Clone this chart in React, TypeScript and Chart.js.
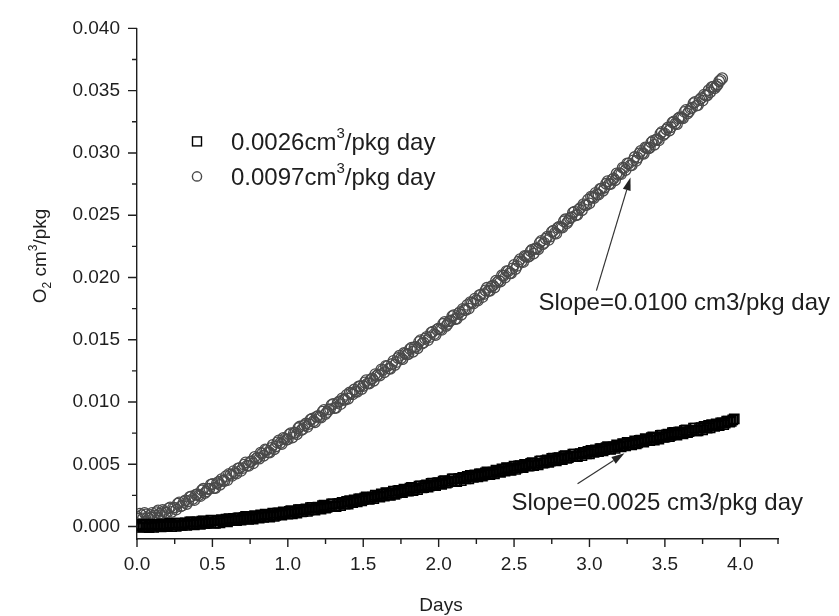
import { useEffect, useRef } from 'react';
import { Chart, registerables } from 'chart.js';

Chart.register(...registerables);

// ---- data ----
// readings taken at even hundredths of a day
const daysEven = [
  0, 0.02, 0.04, 0.06, 0.08, 0.1, 0.12, 0.14, 0.16, 0.18,
  0.2, 0.22, 0.24, 0.26, 0.28, 0.3, 0.32, 0.34, 0.36, 0.38,
  0.4, 0.42, 0.44, 0.46, 0.48, 0.5, 0.52, 0.54, 0.56, 0.58,
  0.6, 0.62, 0.64, 0.66, 0.68, 0.7, 0.72, 0.74, 0.76, 0.78,
  0.8, 0.82, 0.84, 0.86, 0.88, 0.9, 0.92, 0.94, 0.96, 0.98,
  1.0, 1.02, 1.04, 1.06, 1.08, 1.1, 1.12, 1.14, 1.16, 1.18,
  1.2, 1.22, 1.24, 1.26, 1.28, 1.3, 1.32, 1.34, 1.36, 1.38,
  1.4, 1.42, 1.44, 1.46, 1.48, 1.5, 1.52, 1.54, 1.56, 1.58,
  1.6, 1.62, 1.64, 1.66, 1.68, 1.7, 1.72, 1.74, 1.76, 1.78,
  1.8, 1.82, 1.84, 1.86, 1.88, 1.9, 1.92, 1.94, 1.96, 1.98,
  2.0, 2.02, 2.04, 2.06, 2.08, 2.1, 2.12, 2.14, 2.16, 2.18,
  2.2, 2.22, 2.24, 2.26, 2.28, 2.3, 2.32, 2.34, 2.36, 2.38,
  2.4, 2.42, 2.44, 2.46, 2.48, 2.5, 2.52, 2.54, 2.56, 2.58,
  2.6, 2.62, 2.64, 2.66, 2.68, 2.7, 2.72, 2.74, 2.76, 2.78,
  2.8, 2.82, 2.84, 2.86, 2.88, 2.9, 2.92, 2.94, 2.96, 2.98,
  3.0, 3.02, 3.04, 3.06, 3.08, 3.1, 3.12, 3.14, 3.16, 3.18,
  3.2, 3.22, 3.24, 3.26, 3.28, 3.3, 3.32, 3.34, 3.36, 3.38,
  3.4, 3.42, 3.44, 3.46, 3.48, 3.5, 3.52, 3.54, 3.56, 3.58,
  3.6, 3.62, 3.64, 3.66, 3.68, 3.7, 3.72, 3.74, 3.76, 3.78,
  3.8, 3.82, 3.84, 3.86, 3.88, 3.9, 3.92, 3.94, 3.96,
];

// readings taken at odd hundredths of a day
const daysOdd = [
  0.01, 0.03, 0.05, 0.07, 0.09, 0.11, 0.13, 0.15, 0.17, 0.19,
  0.21, 0.23, 0.25, 0.27, 0.29, 0.31, 0.33, 0.35, 0.37, 0.39,
  0.41, 0.43, 0.45, 0.47, 0.49, 0.51, 0.53, 0.55, 0.57, 0.59,
  0.61, 0.63, 0.65, 0.67, 0.69, 0.71, 0.73, 0.75, 0.77, 0.79,
  0.81, 0.83, 0.85, 0.87, 0.89, 0.91, 0.93, 0.95, 0.97, 0.99,
  1.01, 1.03, 1.05, 1.07, 1.09, 1.11, 1.13, 1.15, 1.17, 1.19,
  1.21, 1.23, 1.25, 1.27, 1.29, 1.31, 1.33, 1.35, 1.37, 1.39,
  1.41, 1.43, 1.45, 1.47, 1.49, 1.51, 1.53, 1.55, 1.57, 1.59,
  1.61, 1.63, 1.65, 1.67, 1.69, 1.71, 1.73, 1.75, 1.77, 1.79,
  1.81, 1.83, 1.85, 1.87, 1.89, 1.91, 1.93, 1.95, 1.97, 1.99,
  2.01, 2.03, 2.05, 2.07, 2.09, 2.11, 2.13, 2.15, 2.17, 2.19,
  2.21, 2.23, 2.25, 2.27, 2.29, 2.31, 2.33, 2.35, 2.37, 2.39,
  2.41, 2.43, 2.45, 2.47, 2.49, 2.51, 2.53, 2.55, 2.57, 2.59,
  2.61, 2.63, 2.65, 2.67, 2.69, 2.71, 2.73, 2.75, 2.77, 2.79,
  2.81, 2.83, 2.85, 2.87, 2.89, 2.91, 2.93, 2.95, 2.97, 2.99,
  3.01, 3.03, 3.05, 3.07, 3.09, 3.11, 3.13, 3.15, 3.17, 3.19,
  3.21, 3.23, 3.25, 3.27, 3.29, 3.31, 3.33, 3.35, 3.37, 3.39,
  3.41, 3.43, 3.45, 3.47, 3.49, 3.51, 3.53, 3.55, 3.57, 3.59,
  3.61, 3.63, 3.65, 3.67, 3.69, 3.71, 3.73, 3.75, 3.77, 3.79,
  3.81, 3.83, 3.85, 3.87, 3.89, 3.91, 3.93, 3.95,
];

// O2 cm3/pkg, square series (0.0026 cm3/pkg day), at daysEven
const squareO2Even = [
  0.00005, 0.00017, -0.00005, 0.00014, -0.00008, 0.00020, 0.00001, 0.00018, -0.00003, 0.00013,
  0.00000, 0.00026, 0.00015, 0.00001, 0.00028, 0.00010, 0.00030, 0.00018, 0.00038, 0.00014,
  0.00036, 0.00018, 0.00046, 0.00028, 0.00036, 0.00050, 0.00026, 0.00049, 0.00055, 0.00040,
  0.00038, 0.00057, 0.00066, 0.00048, 0.00069, 0.00060, 0.00081, 0.00058, 0.00074, 0.00087,
  0.00078, 0.00093, 0.00074, 0.00095, 0.00076, 0.00107, 0.00090, 0.00110, 0.00091, 0.00111,
  0.00100, 0.00128, 0.00119, 0.00107, 0.00136, 0.00120, 0.00142, 0.00132, 0.00154, 0.00132,
  0.00156, 0.00140, 0.00171, 0.00155, 0.00166, 0.00182, 0.00161, 0.00185, 0.00194, 0.00180,
  0.00181, 0.00202, 0.00214, 0.00199, 0.00223, 0.00216, 0.00239, 0.00218, 0.00237, 0.00252,
  0.00245, 0.00262, 0.00245, 0.00268, 0.00251, 0.00284, 0.00269, 0.00290, 0.00273, 0.00294,
  0.00285, 0.00314, 0.00307, 0.00296, 0.00327, 0.00312, 0.00335, 0.00326, 0.00349, 0.00328,
  0.00353, 0.00338, 0.00369, 0.00354, 0.00365, 0.00382, 0.00361, 0.00386, 0.00395, 0.00382,
  0.00383, 0.00404, 0.00415, 0.00400, 0.00423, 0.00416, 0.00439, 0.00418, 0.00437, 0.00452,
  0.00445, 0.00462, 0.00445, 0.00468, 0.00451, 0.00484, 0.00469, 0.00490, 0.00473, 0.00494,
  0.00485, 0.00514, 0.00507, 0.00496, 0.00527, 0.00512, 0.00535, 0.00526, 0.00549, 0.00528,
  0.00553, 0.00538, 0.00569, 0.00554, 0.00565, 0.00582, 0.00561, 0.00586, 0.00596, 0.00583,
  0.00584, 0.00605, 0.00616, 0.00602, 0.00625, 0.00618, 0.00641, 0.00620, 0.00640, 0.00655,
  0.00648, 0.00665, 0.00648, 0.00672, 0.00655, 0.00688, 0.00673, 0.00694, 0.00678, 0.00699,
  0.00690, 0.00719, 0.00712, 0.00702, 0.00733, 0.00718, 0.00741, 0.00732, 0.00756, 0.00735,
  0.00760, 0.00745, 0.00776, 0.00762, 0.00773, 0.00790, 0.00769, 0.00794, 0.00804, 0.00791,
  0.00792, 0.00813, 0.00824, 0.00810, 0.00833, 0.00831, 0.00846, 0.00844, 0.00864,
];

// O2 cm3/pkg, square series, at daysOdd
const squareO2Odd = [
  -0.00007, 0.00011, 0.00020, -0.00002, 0.00008, -0.00007, 0.00018, 0.00007, 0.00021, 0.00004,
  0.00021, -0.00001, 0.00014, 0.00028, 0.00009, 0.00025, 0.00009, 0.00037, 0.00021, 0.00035,
  0.00025, 0.00043, 0.00023, 0.00037, 0.00051, 0.00027, 0.00046, 0.00030, 0.00045, 0.00059,
  0.00064, 0.00047, 0.00055, 0.00070, 0.00051, 0.00074, 0.00063, 0.00073, 0.00060, 0.00077,
  0.00068, 0.00089, 0.00100, 0.00081, 0.00094, 0.00081, 0.00108, 0.00100, 0.00117, 0.00103,
  0.00122, 0.00102, 0.00119, 0.00135, 0.00118, 0.00136, 0.00122, 0.00152, 0.00138, 0.00154,
  0.00146, 0.00167, 0.00149, 0.00166, 0.00182, 0.00161, 0.00181, 0.00168, 0.00184, 0.00201,
  0.00208, 0.00193, 0.00205, 0.00222, 0.00206, 0.00231, 0.00222, 0.00235, 0.00224, 0.00243,
  0.00236, 0.00259, 0.00272, 0.00255, 0.00270, 0.00259, 0.00288, 0.00281, 0.00300, 0.00287,
  0.00308, 0.00289, 0.00308, 0.00325, 0.00310, 0.00329, 0.00316, 0.00347, 0.00334, 0.00351,
  0.00344, 0.00365, 0.00348, 0.00365, 0.00382, 0.00361, 0.00382, 0.00369, 0.00386, 0.00403,
  0.00410, 0.00395, 0.00406, 0.00423, 0.00406, 0.00431, 0.00422, 0.00435, 0.00424, 0.00443,
  0.00436, 0.00459, 0.00472, 0.00455, 0.00470, 0.00459, 0.00488, 0.00481, 0.00500, 0.00487,
  0.00508, 0.00489, 0.00508, 0.00525, 0.00510, 0.00529, 0.00516, 0.00547, 0.00534, 0.00551,
  0.00544, 0.00565, 0.00548, 0.00565, 0.00582, 0.00561, 0.00582, 0.00569, 0.00587, 0.00604,
  0.00611, 0.00596, 0.00607, 0.00625, 0.00608, 0.00633, 0.00624, 0.00637, 0.00627, 0.00646,
  0.00639, 0.00662, 0.00675, 0.00659, 0.00674, 0.00663, 0.00692, 0.00685, 0.00705, 0.00692,
  0.00713, 0.00694, 0.00713, 0.00731, 0.00716, 0.00735, 0.00722, 0.00753, 0.00741, 0.00758,
  0.00751, 0.00772, 0.00755, 0.00773, 0.00790, 0.00769, 0.00790, 0.00777, 0.00795, 0.00812,
  0.00819, 0.00804, 0.00815, 0.00833, 0.00818, 0.00846, 0.00839, 0.00857,
];

// O2 cm3/pkg, circle series (0.0097 cm3/pkg day), at daysEven[0..194]
const circleO2Even = [
  0.00080, 0.00104, 0.00066, 0.00098, 0.00063, 0.00110, 0.00089, 0.00129, 0.00091, 0.00124,
  0.00110, 0.00154, 0.00152, 0.00136, 0.00193, 0.00168, 0.00209, 0.00203, 0.00242, 0.00212,
  0.00260, 0.00244, 0.00303, 0.00282, 0.00304, 0.00342, 0.00310, 0.00358, 0.00380, 0.00366,
  0.00373, 0.00416, 0.00445, 0.00425, 0.00469, 0.00469, 0.00515, 0.00487, 0.00525, 0.00559,
  0.00555, 0.00593, 0.00569, 0.00615, 0.00594, 0.00655, 0.00643, 0.00692, 0.00663, 0.00705,
  0.00700, 0.00749, 0.00752, 0.00741, 0.00803, 0.00783, 0.00827, 0.00823, 0.00865, 0.00837,
  0.00888, 0.00875, 0.00937, 0.00919, 0.00943, 0.00984, 0.00954, 0.01004, 0.01029, 0.01017,
  0.01026, 0.01070, 0.01100, 0.01082, 0.01127, 0.01128, 0.01176, 0.01149, 0.01189, 0.01224,
  0.01222, 0.01262, 0.01239, 0.01287, 0.01267, 0.01330, 0.01320, 0.01371, 0.01344, 0.01388,
  0.01385, 0.01436, 0.01441, 0.01432, 0.01496, 0.01478, 0.01523, 0.01521, 0.01564, 0.01538,
  0.01590, 0.01579, 0.01643, 0.01627, 0.01654, 0.01697, 0.01669, 0.01722, 0.01748, 0.01739,
  0.01750, 0.01797, 0.01830, 0.01814, 0.01862, 0.01866, 0.01917, 0.01893, 0.01936, 0.01974,
  0.01975, 0.02018, 0.01999, 0.02050, 0.02034, 0.02100, 0.02093, 0.02147, 0.02123, 0.02170,
  0.02170, 0.02224, 0.02232, 0.02226, 0.02293, 0.02278, 0.02327, 0.02328, 0.02375, 0.02352,
  0.02408, 0.02400, 0.02467, 0.02453, 0.02483, 0.02529, 0.02504, 0.02559, 0.02588, 0.02581,
  0.02595, 0.02644, 0.02679, 0.02665, 0.02715, 0.02721, 0.02773, 0.02751, 0.02795, 0.02835,
  0.02837, 0.02881, 0.02863, 0.02915, 0.02900, 0.02967, 0.02961, 0.03016, 0.02993, 0.03041,
  0.03042, 0.03097, 0.03106, 0.03101, 0.03169, 0.03155, 0.03204, 0.03206, 0.03253, 0.03231,
  0.03287, 0.03279, 0.03346, 0.03333, 0.03363, 0.03409, 0.03384, 0.03439, 0.03468, 0.03461,
  0.03487, 0.03532, 0.03535, 0.03576, 0.03600,
];

// O2 cm3/pkg, circle series, at daysOdd[0..193]
const circleO2Odd = [
  0.00063, 0.00091, 0.00109, 0.00073, 0.00093, 0.00071, 0.00116, 0.00103, 0.00134, 0.00111,
  0.00146, 0.00117, 0.00150, 0.00183, 0.00162, 0.00197, 0.00181, 0.00237, 0.00221, 0.00255,
  0.00251, 0.00291, 0.00269, 0.00301, 0.00337, 0.00309, 0.00348, 0.00335, 0.00368, 0.00405,
  0.00423, 0.00407, 0.00431, 0.00467, 0.00447, 0.00497, 0.00489, 0.00519, 0.00507, 0.00545,
  0.00545, 0.00587, 0.00619, 0.00597, 0.00631, 0.00621, 0.00675, 0.00671, 0.00711, 0.00697,
  0.00739, 0.00715, 0.00753, 0.00791, 0.00775, 0.00813, 0.00800, 0.00858, 0.00845, 0.00881,
  0.00880, 0.00923, 0.00904, 0.00939, 0.00977, 0.00952, 0.00993, 0.00983, 0.01018, 0.01057,
  0.01076, 0.01061, 0.01087, 0.01124, 0.01105, 0.01157, 0.01150, 0.01182, 0.01171, 0.01211,
  0.01213, 0.01256, 0.01290, 0.01269, 0.01305, 0.01297, 0.01353, 0.01351, 0.01393, 0.01381,
  0.01425, 0.01403, 0.01443, 0.01483, 0.01469, 0.01509, 0.01497, 0.01557, 0.01545, 0.01583,
  0.01583, 0.01628, 0.01611, 0.01648, 0.01689, 0.01666, 0.01710, 0.01701, 0.01739, 0.01780,
  0.01802, 0.01790, 0.01818, 0.01858, 0.01842, 0.01896, 0.01893, 0.01927, 0.01920, 0.01962,
  0.01967, 0.02014, 0.02051, 0.02034, 0.02073, 0.02068, 0.02127, 0.02128, 0.02173, 0.02164,
  0.02211, 0.02192, 0.02235, 0.02278, 0.02267, 0.02311, 0.02302, 0.02366, 0.02357, 0.02399,
  0.02403, 0.02451, 0.02436, 0.02476, 0.02520, 0.02500, 0.02546, 0.02540, 0.02580, 0.02624,
  0.02648, 0.02638, 0.02668, 0.02710, 0.02696, 0.02752, 0.02750, 0.02786, 0.02780, 0.02824,
  0.02830, 0.02878, 0.02916, 0.02900, 0.02940, 0.02936, 0.02996, 0.02998, 0.03044, 0.03036,
  0.03084, 0.03066, 0.03110, 0.03154, 0.03144, 0.03188, 0.03180, 0.03244, 0.03236, 0.03278,
  0.03282, 0.03330, 0.03316, 0.03356, 0.03400, 0.03380, 0.03426, 0.03420, 0.03460, 0.03504,
  0.03528, 0.03519, 0.03550, 0.03586,
];

const seriesRates = ['0.0026', '0.0097'];
const xTickLabels = ['0.0', '0.5', '1.0', '1.5', '2.0', '2.5', '3.0', '3.5', '4.0'];
const yTickLabels = ['0.000', '0.005', '0.010', '0.015', '0.020', '0.025', '0.030', '0.035', '0.040'];

const slopeNotes = [
  { text: 'Slope=0.0100 cm3/pkg day', at: [2.662, 0.01737], tail: [3.046, 0.01895], tip: [3.272, 0.02803] },
  { text: 'Slope=0.0025 cm3/pkg day', at: [2.483, 0.00132], tail: [2.921, 0.00343], tip: [3.232, 0.00588] },
];

const FONT = "'Liberation Sans', Arial, Helvetica, sans-serif";
const INK = '#1e1e1e';
const CIRCLE_INK = '#4a4a4a';

type Part = { t: string; s?: number };

function richWidth(ctx: CanvasRenderingContext2D, parts: Part[], size: number, small: number) {
  let w = 0;
  for (const p of parts) {
    ctx.font = `${p.s ? small : size}px ${FONT}`;
    w += ctx.measureText(p.t).width;
  }
  return w;
}

function drawRich(ctx: CanvasRenderingContext2D, parts: Part[], x: number, y: number, size: number, small: number, sup: number, sub: number) {
  let cx = x;
  for (const p of parts) {
    ctx.font = `${p.s ? small : size}px ${FONT}`;
    const dy = p.s === 1 ? -sup : p.s === -1 ? sub : 0;
    ctx.fillText(p.t, cx, y + dy);
    cx += ctx.measureText(p.t).width;
  }
}

function isMultiple(v: number, step: number) {
  const r = v / step;
  return Math.abs(r - Math.round(r)) < 1e-6;
}

function mergeSeries(xa: number[], ya: number[], xb: number[], yb: number[]) {
  const pts = [
    ...ya.map((v, i) => ({ x: xa[i], y: v })),
    ...yb.map((v, i) => ({ x: xb[i], y: v })),
  ];
  pts.sort((a, b) => a.x - b.x);
  return pts;
}

const decorPlugin = {
  id: 'decor',
  afterDraw(chart: any) {
    const ctx: CanvasRenderingContext2D = chart.ctx;
    const xs = chart.scales.x;
    const ys = chart.scales.y;
    const area = chart.chartArea;
    ctx.save();

    // tick marks (major + minor, outward)
    ctx.strokeStyle = INK;
    ctx.lineWidth = 1.4;
    ctx.beginPath();
    for (const t of xs.ticks) {
      const px = xs.getPixelForValue(t.value);
      const len = isMultiple(t.value, 0.5) ? 8 : 5;
      ctx.moveTo(px, area.bottom);
      ctx.lineTo(px, area.bottom + len);
    }
    for (const t of ys.ticks) {
      const py = ys.getPixelForValue(t.value);
      const len = isMultiple(t.value, 0.005) ? 9 : 5;
      ctx.moveTo(area.left, py);
      ctx.lineTo(area.left - len, py);
    }
    ctx.stroke();

    ctx.fillStyle = INK;
    ctx.textBaseline = 'alphabetic';
    ctx.textAlign = 'left';

    // legend
    const lx = area.left + 60;
    const rows = [area.top + 113, area.top + 148];
    ctx.strokeStyle = '#000';
    ctx.lineWidth = 1.4;
    ctx.strokeRect(lx - 4.5, rows[0] - 4.5, 9, 9);
    ctx.strokeStyle = CIRCLE_INK;
    ctx.beginPath();
    ctx.arc(lx, rows[1], 4.6, 0, Math.PI * 2);
    ctx.stroke();
    ctx.fillStyle = INK;
    seriesRates.forEach((r, i) => {
      drawRich(ctx, [{ t: r + 'cm' }, { t: '3', s: 1 }, { t: '/pkg day' }], lx + 34, rows[i] + 9, 24, 15, 12, 0);
    });

    // slope notes with arrows
    ctx.font = `24px ${FONT}`;
    for (const n of slopeNotes) {
      ctx.fillStyle = INK;
      ctx.fillText(n.text, xs.getPixelForValue(n.at[0]), ys.getPixelForValue(n.at[1]));
      const x0 = xs.getPixelForValue(n.tail[0]);
      const y0 = ys.getPixelForValue(n.tail[1]);
      const x1 = xs.getPixelForValue(n.tip[0]);
      const y1 = ys.getPixelForValue(n.tip[1]);
      const ang = Math.atan2(y1 - y0, x1 - x0);
      const hl = 13;
      const hw = 4;
      const bx = x1 - hl * Math.cos(ang);
      const by = y1 - hl * Math.sin(ang);
      ctx.strokeStyle = '#333';
      ctx.lineWidth = 1.2;
      ctx.beginPath();
      ctx.moveTo(x0, y0);
      ctx.lineTo(bx, by);
      ctx.stroke();
      ctx.fillStyle = '#222';
      ctx.beginPath();
      ctx.moveTo(x1, y1);
      ctx.lineTo(bx + hw * Math.sin(ang), by - hw * Math.cos(ang));
      ctx.lineTo(bx - hw * Math.sin(ang), by + hw * Math.cos(ang));
      ctx.closePath();
      ctx.fill();
    }

    // x title
    ctx.fillStyle = INK;
    ctx.font = `19px ${FONT}`;
    ctx.textAlign = 'center';
    ctx.fillText('Days', area.left + 304, area.bottom + 72);

    // y title (rotated)
    ctx.textAlign = 'left';
    ctx.translate(46, 256);
    ctx.rotate(-Math.PI / 2);
    const yParts: Part[] = [{ t: 'O' }, { t: '2', s: -1 }, { t: ' cm' }, { t: '3', s: 1 }, { t: '/pkg' }];
    const w = richWidth(ctx, yParts, 19, 12);
    drawRich(ctx, yParts, -w / 2, 0, 19, 12, 9, 5);

    ctx.restore();
  },
};

export default function App() {
  const ref = useRef<HTMLCanvasElement | null>(null);

  useEffect(() => {
    document.body.style.margin = '0';
    const canvas = ref.current;
    if (!canvas) return;

    const squarePts = mergeSeries(daysEven, squareO2Even, daysOdd, squareO2Odd);
    const circlePts = mergeSeries(daysEven, circleO2Even, daysOdd, circleO2Odd);

    const chart = new Chart(canvas, {
      type: 'scatter',
      data: {
        datasets: [
          {
            label: seriesRates[0],
            data: squarePts,
            pointStyle: 'rect',
            pointRadius: 6.5,
            pointBorderWidth: 1.6,
            borderColor: '#000',
            backgroundColor: 'rgba(0,0,0,0)',
            showLine: false,
          },
          {
            label: seriesRates[1],
            data: circlePts,
            pointStyle: 'circle',
            pointRadius: 5.3,
            pointBorderWidth: 1.3,
            borderColor: CIRCLE_INK,
            backgroundColor: 'rgba(255,255,255,0)',
            showLine: false,
          },
        ],
      },
      options: {
        responsive: false,
        animation: false,
        devicePixelRatio: 1,
        layout: { padding: { left: 0, top: 20, right: 61, bottom: 0 } },
        plugins: {
          legend: { display: false },
          tooltip: { enabled: false },
          title: { display: false },
        },
        scales: {
          x: {
            type: 'linear',
            min: 0,
            max: 4.25,
            grid: { display: false, drawTicks: false },
            border: { display: true, color: INK, width: 1.4 },
            ticks: {
              stepSize: 0.25,
              autoSkip: false,
              maxRotation: 0,
              includeBounds: false,
              padding: 14,
              color: INK,
              font: { family: FONT, size: 19 },
              callback: (v: any) => {
                const n = Number(v);
                if (!isMultiple(n, 0.5)) return '';
                return xTickLabels[Math.round(n / 0.5)] ?? '';
              },
            },
            afterFit: (s: any) => {
              s.height = 77;
            },
          },
          y: {
            type: 'linear',
            min: -0.001,
            max: 0.04,
            grid: { display: false, drawTicks: false },
            border: { display: true, color: INK, width: 1.4 },
            ticks: {
              stepSize: 0.0025,
              autoSkip: false,
              includeBounds: false,
              padding: 17,
              color: INK,
              font: { family: FONT, size: 19 },
              callback: (v: any) => {
                const n = Number(v);
                if (!isMultiple(n, 0.005)) return '';
                return yTickLabels[Math.round(n / 0.005)] ?? '';
              },
            },
            afterFit: (s: any) => {
              s.width = 137;
            },
          },
        },
      },
      plugins: [decorPlugin],
    });

    return () => chart.destroy();
  }, []);

  return (
    <div style={{ width: 839, height: 616, overflow: 'hidden', background: '#fff' }}>
      <canvas ref={ref} width={839} height={616} />
    </div>
  );
}
